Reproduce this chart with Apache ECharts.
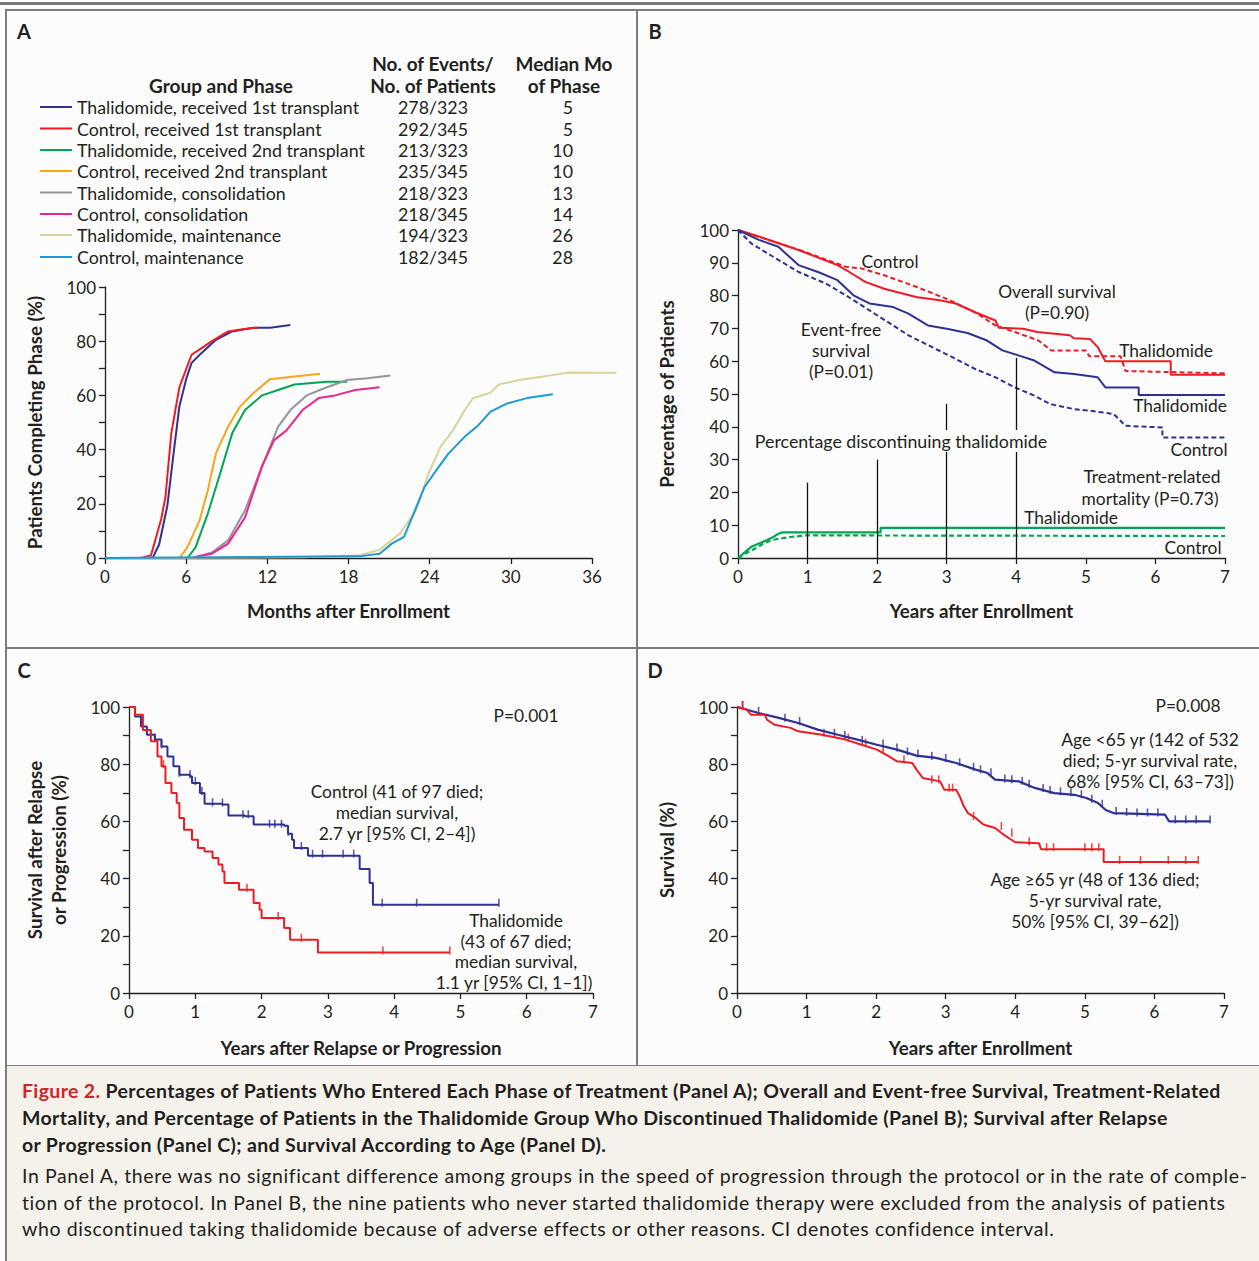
<!DOCTYPE html>
<html>
<head>
<meta charset="utf-8" />
<title>Figure 2</title>
<script src="https://cdn.jsdelivr.net/npm/echarts@6/dist/echarts.min.js"></script>
<style>
  body { margin: 0; background: #fff; font-family: Lato, sans-serif; }
  #topline { position: absolute; left: 0; top: 2px; width: 1259px; height: 3px; background: #7a7a7a; }
  #frame { position: absolute; left: 5px; top: 9px; width: 1260px; height: 1058px; border: 2px solid #7d7d7d; background: #fcfcfc; box-sizing: border-box; }
  #vdiv { position: absolute; left: 636px; top: 9px; width: 2px; height: 1058px; background: #7d7d7d; }
  #hdiv { position: absolute; left: 5px; top: 647px; width: 1260px; height: 2px; background: #7d7d7d; }
  #main { position: absolute; left: 0; top: 0; width: 1259px; height: 1066px; }
  #caption { position: absolute; left: 5px; top: 1066px; width: 1260px; height: 195px; background: #f5f2eb; border-left: 2px solid #7d7d7d; box-sizing: border-box; color: #231f20; }
  .cap-bold { position: absolute; left: 15px; top: 11px; font-weight: bold; font-size: 19.5px; letter-spacing: 0.35px; line-height: 27px; white-space: nowrap; }
  .cap-bold .fig { color: #d2232a; }
  .cap-text { position: absolute; left: 15px; top: 97px; font-size: 19.5px; letter-spacing: 0.6px; line-height: 26.5px; white-space: nowrap; }
</style>
</head>
<body>
<div id="topline"></div>
<div id="frame"></div>
<div id="vdiv"></div>
<div id="hdiv"></div>
<div id="main"></div>
<div id="caption">
  <div class="cap-bold"><span class="fig">Figure 2.</span> Percentages of Patients Who Entered Each Phase of Treatment (Panel A); Overall and Event-free Survival, Treatment-Related<br>Mortality, and Percentage of Patients in the Thalidomide Group Who Discontinued Thalidomide (Panel B); Survival after Relapse<br>or Progression (Panel C); and Survival According to Age (Panel D).</div>
  <div class="cap-text">In Panel A, there was no significant difference among groups in the speed of progression through the protocol or in the rate of comple-<br>tion of the protocol. In Panel B, the nine patients who never started thalidomide therapy were excluded from the analysis of patients<br>who discontinued taking thalidomide because of adverse effects or other reasons. CI denotes confidence interval.</div>
</div>
<script type="text/javascript">
// ---- Panel A: phase completion (months, %) ----
var phaseNames = ['Thalidomide, received 1st transplant', 'Control, received 1st transplant',
  'Thalidomide, received 2nd transplant', 'Control, received 2nd transplant',
  'Thalidomide, consolidation', 'Control, consolidation',
  'Thalidomide, maintenance', 'Control, maintenance'];
var phaseEvents = ['278/323', '292/345', '213/323', '235/345', '218/323', '218/345', '194/323', '182/345'];
var phaseMedians = ['5', '5', '10', '10', '13', '14', '26', '28'];
var phaseColors = ['#2e3192', '#ed1c24', '#00a651', '#f8a51b', '#939598', '#ec268f', '#d9d39c', '#1b9ad6'];

var thal1st = [[0,0],[3.3,0],[3.56,0.4],[4.0,5],[4.6,19],[5.07,38.6],[5.5,56],[6.0,66],[6.4,72],[7.0,75],[8.2,80.5],[9.4,83.6],[10.95,85],[12.2,85],[13.7,86]];
var ctrl1st = [[0,0],[2.66,0],[3.4,1],[4.16,14.5],[4.47,22.5],[4.9,46],[5.5,63],[5.8,67],[6.4,75],[7.0,77],[7.9,80],[9.1,83.6],[10.3,84.5],[11.3,85]];
var thal2nd = [[0,0],[6.1,0],[6.7,4],[7.6,16.4],[8.5,31],[9.4,46],[10.35,54.6],[11.6,60],[12.8,62],[14.0,64],[16.4,65],[17.9,65]];
var ctrl2nd = [[0,0],[5.5,0],[6.1,4],[7.0,14],[7.6,25],[8.2,38.6],[9.1,48.5],[10.0,56],[11.0,61],[12.2,66],[14.0,67],[15.9,68]];
var thalCons = [[0,0],[6.5,0],[7.9,2],[9.1,6.5],[10.35,17.6],[11.6,33.7],[12.8,48.5],[13.7,54.6],[14.9,60],[16.4,63],[17.9,65.7],[19.4,66.3],[21.1,67.3]];
var ctrlCons = [[0,0],[6.3,0],[7.9,1.6],[9.1,5.3],[10.35,15],[11.6,33.7],[12.5,43.5],[13.4,47],[14.6,54.6],[15.8,59],[17.0,60],[18.5,62],[20.3,63]];
var thalMaint = [[0,0],[14.6,0.3],[18.8,1],[20.3,3],[21.8,9],[23.0,17.6],[23.9,31],[24.8,41],[25.7,47],[26.6,54.6],[27.2,59],[28.5,61],[29.1,64],[30.6,65.7],[32.4,67],[34.2,68.4],[37.8,68.4]];
var ctrlMaint = [[0,0],[18.8,0.6],[20.3,1.6],[21.2,5.3],[22.1,7.8],[22.7,15],[23.6,26],[24.5,32.4],[25.4,38.6],[26.6,44.8],[27.5,48.5],[28.5,54],[29.7,57],[31.2,59],[33.1,60.4]];
var phaseCurves = [thal1st, ctrl1st, thal2nd, ctrl2nd, thalCons, ctrlCons, thalMaint, ctrlMaint];

// ---- Panel B: survival, years ----
var osThal = [[0,100],[0.3,98],[0.87,93.9],[1.43,89.3],[1.6,87.2],[1.83,84.2],[2.1,82.1],[2.56,79.6],[2.9,78.6],[3.13,77.6],[3.4,75],[3.7,72.4],[3.75,70.2],[4.1,69.9],[4.3,68.9],[4.77,67.9],[4.83,67],[5.06,66.8],[5.17,64.3],[5.28,60],[6.22,60],[6.22,55.9],[7.0,55.9]];
var osCtrl = [[0,100],[0.87,94],[1.55,88.8],[1.77,88.3],[2.1,86.2],[2.56,82.7],[3.0,79],[3.4,75],[3.7,70.9],[3.98,68.9],[4.32,66.3],[4.5,63.3],[5.0,63.3],[5.05,61.5],[5.5,61.5],[5.57,57],[7.0,56.3]];
var efsThal = [[0,100],[0.3,97],[0.58,94.9],[0.87,89.3],[1.15,87.2],[1.43,84.7],[1.66,80.1],[1.89,77.6],[2.23,76.5],[2.45,74.5],[2.73,70.9],[3.0,69.9],[3.3,68.6],[3.58,66.3],[3.8,63.3],[4.04,61.7],[4.26,60.2],[4.55,56.6],[4.83,56.1],[5.17,55.1],[5.28,52],[5.76,52],[5.76,49.7],[7.0,49.7]];
var efsCtrl = [[0,100],[0.19,95.9],[0.47,92.3],[0.87,87.2],[1.26,83.7],[1.55,80.1],[1.89,75.5],[2.23,70.9],[2.45,67.9],[2.79,64.3],[3.13,60.7],[3.4,57.7],[3.7,55.1],[3.98,52],[4.26,49.5],[4.49,46.9],[4.83,45.4],[5.06,44.9],[5.4,43.9],[5.57,40.3],[6.1,39.8],[6.1,36.7],[7.0,36.7]];
var trmThal = [[0,0],[0.1,1.8],[0.19,3.4],[0.3,4.4],[0.41,5.4],[0.5,6.3],[0.58,7.4],[0.64,7.8],[2.05,7.8],[2.05,9.2],[7.0,9.2]];
var trmCtrl = [[0,0],[0.12,1.5],[0.24,2.8],[0.35,4.2],[0.47,5.4],[0.6,5.9],[0.75,6.4],[0.98,6.9],[7.0,6.7]];
var discontYears = [1, 2, 3, 4];
var discontPct = [23, 30, 47, 61];

// ---- Panel C: survival after relapse ----
var relapseCtrl = [[0,100],[0.09,96.7],[0.18,93.2],[0.27,90.3],[0.39,88.6],[0.49,86.2],[0.58,82.7],[0.67,79.3],[0.76,76.3],[0.92,75.8],[0.95,73.4],[1.07,69.9],[1.14,66.2],[1.41,65.9],[1.5,62.1],[1.75,61.8],[1.88,58.9],[2.34,58.5],[2.4,55.7],[2.46,53.6],[2.49,50.7],[2.68,50.7],[2.7,48],[3.48,43.4],[3.63,38.5],[3.68,30.9],[5.58,30.9]];
var relapseThal = [[0,100],[0.09,97.3],[0.21,92],[0.33,88],[0.43,82.7],[0.49,79.3],[0.55,73.4],[0.64,69.9],[0.72,66.4],[0.76,61.2],[0.83,57.1],[0.95,53.6],[1.04,50.7],[1.14,49.5],[1.26,47.2],[1.35,44.9],[1.41,42.5],[1.44,38.5],[1.66,36.1],[1.88,31.5],[1.97,29.1],[2.0,26.2],[2.34,22.7],[2.43,18.6],[2.85,14.2],[4.84,14.2]];
var relapseCtrlCens = [[0.39,88.6],[0.49,86.2],[0.76,76.3],[0.92,75.8],[1.0,73.4],[1.1,69.9],[1.26,66],[1.41,65.9],[1.72,61.8],[1.8,61.8],[2.12,58.5],[2.2,58.5],[2.3,58.5],[2.4,55.7],[2.6,50.7],[2.77,48],[2.92,48],[3.23,48],[3.39,48],[3.82,30.9],[4.34,30.9],[5.58,30.9]];
var relapseThalCens = [[0.52,79.3],[1.78,36.1],[2.25,26.2],[2.6,18.6],[3.83,14.2],[4.84,14.2]];

// ---- Panel D: survival by age ----
var ageYoung = [[0,100],[0.31,97.9],[0.6,96.2],[0.88,94.4],[1.16,92.1],[1.45,90.3],[1.73,88.6],[2.01,86.8],[2.3,85.1],[2.58,83],[2.86,82.2],[3.15,80.4],[3.43,78.1],[3.6,76.9],[3.71,74.6],[4.05,74],[4.28,71.7],[4.56,69.9],[4.85,69.3],[5.02,68.2],[5.19,66.4],[5.3,64],[5.41,62.9],[6.15,62.4],[6.21,60],[6.8,60]];
var ageOld = [[0,100],[0.14,99.1],[0.2,97.3],[0.4,97.3],[0.43,95.6],[0.54,93.8],[0.77,92.7],[0.88,91.5],[1.22,90.3],[1.56,88.6],[1.79,86.8],[2.01,85.1],[2.18,82.8],[2.3,81],[2.52,80.4],[2.58,78.1],[2.67,75.2],[2.92,74],[2.98,71.1],[3.15,71.1],[3.2,68.8],[3.26,65.3],[3.32,62.9],[3.43,61.2],[3.54,58.9],[3.71,57.7],[3.83,55.4],[4.0,52.7],[4.34,52.4],[4.37,50.3],[5.27,50.3],[5.27,45.8],[6.63,45.8]];
var ageYoungCens = [[0.08,100],[0.31,97.9],[0.69,95.5],[0.9,94.4],[1.4,90.3],[1.55,89.5],[1.8,87.8],[2.1,86.5],[2.3,85.1],[2.45,83.8],[2.6,83],[2.8,82.2],[3.0,81.5],[3.2,80],[3.4,78.4],[3.5,77.5],[3.65,76.5],[3.85,74.3],[3.95,74],[4.1,73.5],[4.2,72.5],[4.4,71],[4.5,70.3],[4.65,69.8],[4.8,69.5],[4.95,68.8],[5.1,67.2],[5.25,65.5],[5.45,62.9],[5.6,62.6],[5.75,62.4],[5.9,62.4],[6.05,62.4],[6.3,60],[6.45,60],[6.6,60],[6.8,60]];
var ageOldCens = [[0.08,100],[1.25,90.3],[1.6,88.6],[1.85,86.8],[2.1,84.5],[2.4,81],[2.8,74],[2.9,74],[3.05,71.1],[3.1,71.1],[3.4,61.2],[3.8,57.7],[3.95,55.4],[4.2,52.4],[4.45,50.3],[4.55,50.3],[5.0,50.3],[5.1,50.3],[5.2,50.3],[5.5,45.8],[5.8,45.8],[6.2,45.8],[6.45,45.8],[6.63,45.8]];

var BLUE = '#2e3192', RED = '#ed1c24', GREEN = '#00a651', INK = '#231f20';
var FONT = 'Lato, sans-serif';

var myChart = echarts.init(document.getElementById('main'), null, { renderer: 'svg' });

function xAx(grid, max, interval, name, gap) {
  return {
    type: 'value', gridIndex: grid, min: 0, max: max, interval: interval,
    name: name, nameLocation: 'middle', nameGap: gap,
    nameTextStyle: { color: INK, fontSize: 18.7, fontWeight: 'bold', fontFamily: FONT },
    axisLine: { lineStyle: { color: INK, width: 1.3 } },
    axisTick: { length: 6, lineStyle: { color: INK, width: 1.3 } },
    axisLabel: { color: INK, fontSize: 17, fontFamily: FONT, margin: 10 },
    splitLine: { show: false }
  };
}
function yAx(grid, interval, minor, name, gap) {
  return {
    type: 'value', gridIndex: grid, min: 0, max: 100, interval: interval,
    name: name, nameLocation: 'middle', nameGap: gap,
    nameTextStyle: { color: INK, fontSize: 18.7, fontWeight: 'bold', fontFamily: FONT, lineHeight: 24 },
    axisLine: { show: true, lineStyle: { color: INK, width: 1.3 } },
    axisTick: { show: true, length: 6, lineStyle: { color: INK, width: 1.3 } },
    minorTick: { show: minor, splitNumber: 2, length: 6, lineStyle: { color: INK, width: 1.3 } },
    axisLabel: { color: INK, fontSize: 17, fontFamily: FONT, margin: 9 },
    splitLine: { show: false }
  };
}
function line(grid, data, color, dashed, step, width) {
  return {
    type: 'line', xAxisIndex: grid, yAxisIndex: grid, data: data, step: step ? 'end' : false,
    showSymbol: false, clip: false, silent: true,
    lineStyle: { color: color, width: width || 2, type: dashed ? [5, 3] : 'solid' }
  };
}
function cens(grid, data, color) {
  return {
    type: 'scatter', xAxisIndex: grid, yAxisIndex: grid, data: data, silent: true,
    symbol: 'rect', symbolSize: [1.6, 8], symbolOffset: [0, -2],
    itemStyle: { color: color }
  };
}
function txt(x, y, s, opt) {
  opt = opt || {};
  return {
    type: 'text', z: 100, silent: true,
    style: {
      text: s, x: x, y: y, fill: INK,
      font: (opt.bold ? 'bold ' : '') + (opt.size || 17.4) + 'px ' + FONT,
      align: opt.align || 'center', verticalAlign: 'middle',
      backgroundColor: opt.bg, padding: opt.bg ? [2, 4] : 0
    }
  };
}

var series = [];
phaseCurves.forEach(function (d, i) { series.push(line(0, d, phaseColors[i], false, false, 2)); });
var discontSeries = line(1, trmThal, GREEN, false, false, 2.2);
discontSeries.markLine = {
  silent: true, symbol: 'none', label: { show: false },
  lineStyle: { color: '#111', width: 1.3, type: 'solid' },
  data: discontYears.map(function (x, i) { return [{ coord: [x, 0] }, { coord: [x, discontPct[i]] }]; })
};
series.push(line(1, osCtrl, RED, true, false, 2), line(1, osThal, RED, false, false, 2),
  line(1, efsCtrl, BLUE, true, false, 2), line(1, efsThal, BLUE, false, false, 2),
  line(1, trmCtrl, GREEN, true, false, 2.2), discontSeries);
series.push(line(2, relapseCtrl, BLUE, false, true, 2), line(2, relapseThal, RED, false, true, 2),
  cens(2, relapseCtrlCens, BLUE), cens(2, relapseThalCens, RED));
series.push(line(3, ageYoung, BLUE, false, false, 2.2), line(3, ageOld, RED, false, false, 2),
  cens(3, ageYoungCens, BLUE), cens(3, ageOldCens, RED));

var graphics = [
  txt(24, 31, 'A', { bold: true, size: 20 }), txt(655, 31, 'B', { bold: true, size: 20 }),
  txt(24, 670, 'C', { bold: true, size: 20 }), txt(655, 670, 'D', { bold: true, size: 20 }),
  txt(221, 85, 'Group and Phase', { bold: true, size: 19 }),
  txt(433, 63, 'No. of Events/', { bold: true, size: 19 }), txt(433, 85, 'No. of Patients', { bold: true, size: 19 }),
  txt(564, 63, 'Median Mo', { bold: true, size: 19 }), txt(564, 85, 'of Phase', { bold: true, size: 19 })
];
var rowY = [107, 128.5, 150, 171, 192.5, 214, 235, 257];
phaseNames.forEach(function (n, i) {
  graphics.push({ type: 'line', z: 100, silent: true, shape: { x1: 40, y1: rowY[i], x2: 72, y2: rowY[i] }, style: { stroke: phaseColors[i], lineWidth: 2 } });
  graphics.push(txt(77, rowY[i], n, { align: 'left', size: 17.8 }));
  graphics.push(txt(433, rowY[i], phaseEvents[i], { size: 17.8 }));
  graphics.push(txt(573, rowY[i], phaseMedians[i], { align: 'right', size: 17.8 }));
});
graphics.push(
  txt(890, 261, 'Control'),
  txt(1057, 291, 'Overall survival'), txt(1057, 312, '(P=0.90)'),
  txt(841, 329, 'Event-free'), txt(841, 350, 'survival'), txt(841, 371, '(P=0.01)'),
  txt(1166, 350, 'Thalidomide'), txt(1180, 405, 'Thalidomide'), txt(1199, 449, 'Control'),
  txt(1152, 476, 'Treatment-related'), txt(1150, 498, 'mortality (P=0.73)'),
  txt(1071, 517, 'Thalidomide'), txt(1193, 547, 'Control'),
  txt(901, 441, 'Percentage discontinuing thalidomide', { bg: '#fcfcfc', size: 17.8 }),
  txt(526, 715, 'P=0.001'),
  txt(397, 791, 'Control (41 of 97 died;'), txt(397, 812, 'median survival,'), txt(397, 833, '2.7 yr [95% CI, 2\u20134])'),
  txt(516, 920, 'Thalidomide'), txt(516, 941, '(43 of 67 died;'), txt(516, 961, 'median survival,'), txt(514, 982, '1.1 yr [95% CI, 1\u20131])'),
  txt(1188, 705, 'P=0.008'),
  txt(1150, 739, 'Age <65 yr (142 of 532'), txt(1150, 760, 'died; 5-yr survival rate,'), txt(1150, 781, '68% [95% CI, 63\u201373])'),
  txt(1095, 879, 'Age \u226565 yr (48 of 136 died;'), txt(1095, 900, '5-yr survival rate,'), txt(1095, 921, '50% [95% CI, 39\u201362])')
);

myChart.setOption({
  animation: false,
  textStyle: { fontFamily: FONT },
  grid: [
    { left: 105, top: 287, width: 487, height: 271 },
    { left: 738, top: 230, width: 487, height: 328 },
    { left: 129, top: 707, width: 464, height: 286 },
    { left: 737, top: 707, width: 487, height: 286 }
  ],
  xAxis: [
    xAx(0, 36, 6, 'Months after Enrollment', 43),
    xAx(1, 7, 1, 'Years after Enrollment', 43),
    xAx(2, 7, 1, 'Years after Relapse or Progression', 45),
    xAx(3, 7, 1, 'Years after Enrollment', 45)
  ],
  yAxis: [
    yAx(0, 20, true, 'Patients Completing Phase (%)', 58),
    yAx(1, 10, false, 'Percentage of Patients', 59),
    yAx(2, 20, true, 'Survival after Relapse\nor Progression (%)', 58),
    yAx(3, 20, true, 'Survival (%)', 58)
  ],
  series: series,
  graphic: graphics
});

// the maintenance curve runs past the 36-month end of the axis; the library drops that
// tail, so draw it from the same data through the grid's scale
var tail = thalMaint.filter(function (p) { return p[0] >= 34; }).map(function (p) {
  return myChart.convertToPixel({ gridIndex: 0 }, p);
});
graphics.push({ type: 'polyline', z: 50, silent: true, shape: { points: tail }, style: { stroke: phaseColors[6], lineWidth: 2, fill: null } });
myChart.setOption({ graphic: graphics });
</script>
</body>
</html>
